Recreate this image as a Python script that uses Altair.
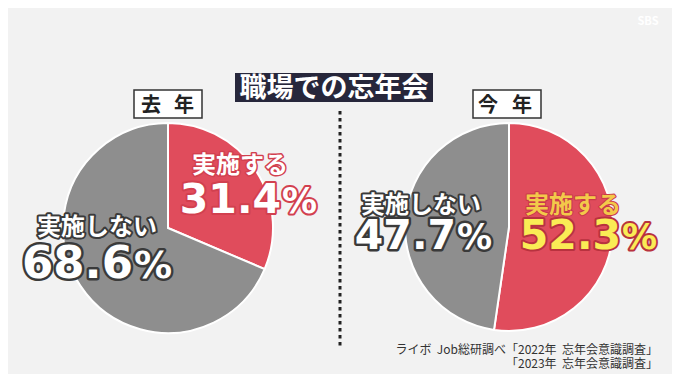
import altair as alt
import pandas as pd

# ---------------- data ----------------
years = ["去年", "今年"]
categories = ["実施する", "実施しない"]
values_last = [31.4, 68.6]
values_this = [52.3, 47.7]
title_text = "職場での忘年会"
year_chars = [["去", "年"], ["今", "年"]]
source_lines = ["ライボ\u00a0\u00a0Job総研調べ「2022年\u00a0\u00a0忘年会意識調査」", "「2023年\u00a0\u00a0忘年会意識調査」"]
logo_text = "SBS"

rows = []
for yr, vals in zip(years, [values_last, values_this]):
    for i, (cat, v) in enumerate(zip(categories, vals)):
        rows.append({"year": yr, "category": cat, "value": v, "order": i})
df = pd.DataFrame(rows)

# ---------------- styles ----------------
BG = "#f2f2f2"
RED = "#e04c5c"
GRAY = "#8e8e8e"
NAVY = "#27273b"
DARK = "#222222"
JP = "Noto Sans CJK JP"
NUM = "DejaVu Sans"
OFF = 8


def X(v):
    return v - OFF


def Y(v):
    return v - OFF


one = pd.DataFrame({"k": [0]})


def box(x1, x2, y1, y2, **kw):
    return alt.Chart(one).mark_rect(**kw).encode(
        x=alt.value(X(x1)), x2=alt.value(X(x2)), y=alt.value(Y(y1)), y2=alt.value(Y(y2))
    )


def pie(year, cx, cy, r):
    return (
        alt.Chart(df)
        .transform_filter(alt.datum.year == year)
        .mark_arc(radius=r, stroke="white", strokeWidth=2)
        .encode(
            theta=alt.Theta("value:Q", stack=True, scale=alt.Scale(domain=[0, 100])),
            color=alt.Color("category:N", scale=alt.Scale(domain=categories, range=[RED, GRAY]), legend=None),
            order=alt.Order("order:Q", sort="ascending"),
            x=alt.value(X(cx)),
            y=alt.value(Y(cy)),
        )
    )


def label(text, x, y, size, fill, outline=None, ow=4, font=JP, align="center", weight="bold"):
    base = dict(text=text, x=X(x), y=Y(y), fontSize=size, font=font, fontWeight=weight,
                align=align, baseline="alphabetic")
    out = []
    if outline:
        out.append(alt.Chart(one).mark_text(fill=outline, stroke=outline, strokeWidth=ow,
                                            strokeJoin="round", **base))
    out.append(alt.Chart(one).mark_text(fill=fill, **base))
    return out


def number(year, cat, x_end, y, size, psize, fill, outline, ow):
    src = alt.Chart(df).transform_filter((alt.datum.year == year) & (alt.datum.category == cat))
    out = []
    for stroke in [outline, None]:
        kw = dict(x=X(x_end), y=Y(y), font=NUM, fontWeight="bold", baseline="alphabetic")
        if stroke:
            kw.update(fill=stroke, stroke=stroke, strokeWidth=ow, strokeJoin="round")
        else:
            kw.update(fill=fill)
        out.append(src.mark_text(align="right", fontSize=size, **kw)
                   .encode(text=alt.Text("value:Q", format=".1f")))
        out.append(src.mark_text(align="left", fontSize=psize, dx=1, text="%", **kw))
    return out


layers = []

# divider
layers.append(
    alt.Chart(one).mark_rule(color=DARK, strokeWidth=3, strokeDash=[3.5, 3.5]).encode(
        x=alt.value(X(340)), y=alt.value(Y(111)), y2=alt.value(Y(349))
    )
)

# pies
layers.append(pie(years[0], 168, 228, 105))
layers.append(pie(years[1], 509, 227, 104))

# title
layers.append(box(235, 433, 73, 102, color=NAVY))
layers += label(title_text, 334, 97, 27, "white")

# year boxes
layers.append(box(134, 202, 90, 118, fill="white", stroke="#333333", strokeWidth=1.5))
layers.append(box(473, 541, 90, 118, fill="white", stroke="#333333", strokeWidth=1.5))
layers += label(year_chars[0][0], 151, 112, 20, DARK)
layers += label(year_chars[0][1], 184, 112, 20, DARK)
layers += label(year_chars[1][0], 488, 112, 20, DARK)
layers += label(year_chars[1][1], 522, 112, 20, DARK)

# left pie labels
layers += label(categories[0], 240, 173, 24, "white", outline="#d2404f", ow=3)
layers += number(years[0], categories[0], 281, 213, 41, 35, "white", "#d2404f", 4)
layers += label(categories[1], 97, 235, 24, "white", outline="#3a3a3a", ow=4)
layers += number(years[0], categories[1], 133, 278, 45, 38, "white", "#3a3a3a", 5)

# right pie labels
layers += label(categories[1], 421, 213, 24, "white", outline="#3a3a3a", ow=4)
layers += number(years[1], categories[1], 456, 249, 41, 35, "white", "#3a3a3a", 5)
layers += label(categories[0], 573, 213, 24, "#f3c94a", outline="#c8394a", ow=2)
layers += number(years[1], categories[0], 621, 249, 41, 35, "#faec55", "#b8323f", 4)

# source
layers += label(source_lines[0], 658, 354, 12, "#333333", align="right", weight="normal")
layers += label(source_lines[1], 658, 368, 12, "#333333", align="right", weight="normal")

# logo
layers += label(logo_text, 648, 25, 11, "#ffffff", align="center", weight="bold")

chart = (
    alt.layer(*layers)
    .properties(width=664, height=366, background=BG, padding=0, autosize=alt.AutoSizeParams(type="none"))
    .configure_view(stroke=None)
)

chart.save("out.html", embed_options={"renderer": "svg", "actions": False})
